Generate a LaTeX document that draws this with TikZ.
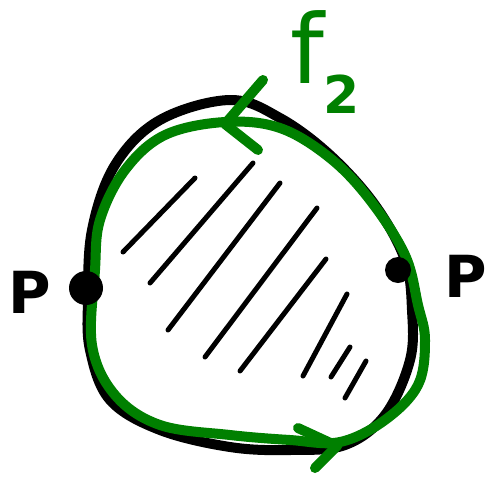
\documentclass[tikz,border=0pt]{standalone}
\usepackage{fontspec}
\setmainfont{DejaVu Sans}
\begin{document}
\begin{tikzpicture}[x=1pt,y=-1pt,line cap=round,line join=round,
  blackline/.style={draw=black,line width=10pt},
  greenline/.style={draw=gcol,line width=10pt},
  hatch/.style={draw=black,line width=5pt},
  dotnode/.style={circle,fill=black,inner sep=0pt,minimum size=#1},
  plabel/.style={text=black,font=\fontsize{58}{62}\selectfont\bfseries,inner sep=0pt}]
\definecolor{gcol}{RGB}{0,128,0}
\useasboundingbox (0,0) rectangle (486,477);
% black loop
\draw[blackline] plot[smooth cycle,tension=0.6] coordinates {(88,300) (92,230) (115,165) (160,120) (230,100) (280,118) (330,155) (375,205) (405,260) (412,310) (410,360) (385,415) (345,445) (290,450) (230,447) (160,430) (110,400) (90,350)};
% hatching
\draw[hatch] (195,178) -- (123,252);
\draw[hatch] (253,163) -- (150,283);
\draw[hatch] (280,183) -- (168,330);
\draw[hatch] (317,208) -- (205,357);
\draw[hatch] (326,259) -- (240,371);
\draw[hatch] (347,294) -- (303,376);
\draw[hatch] (350,347) -- (331,377);
\draw[hatch] (366,361) -- (345,398);
% green loop
\draw[greenline] plot[smooth cycle,tension=0.6] coordinates {(95,270) (100,220) (125,170) (165,135) (225,122) (280,128) (330,158) (370,200) (405,255) (418,305) (425,340) (418,385) (385,420) (340,442) (290,440) (230,435) (160,425) (115,395) (92,345)};
% arrowheads
\coordinate (tipT) at (225,124);
\coordinate (tipB) at (337,446);
\draw[greenline] (263,80) -- (tipT) -- (258,150);
\draw[greenline] (298,428) -- (tipB) -- (315,468);
% dots
\node[dotnode=34pt] (dotL) at (86,288) {};
\node[dotnode=26pt] (dotR) at (398,270) {};
% labels
\node[plabel] (pL) at (30,292) {P};
\node[plabel] (pR) at (466,276) {P};
\node[text=gcol,font=\fontsize{96}{100}\selectfont,inner sep=0pt] (f2) at (325,62) {f\raisebox{-0.32em}{\fontsize{52}{56}\selectfont\bfseries 2}};
\end{tikzpicture}
\end{document}
